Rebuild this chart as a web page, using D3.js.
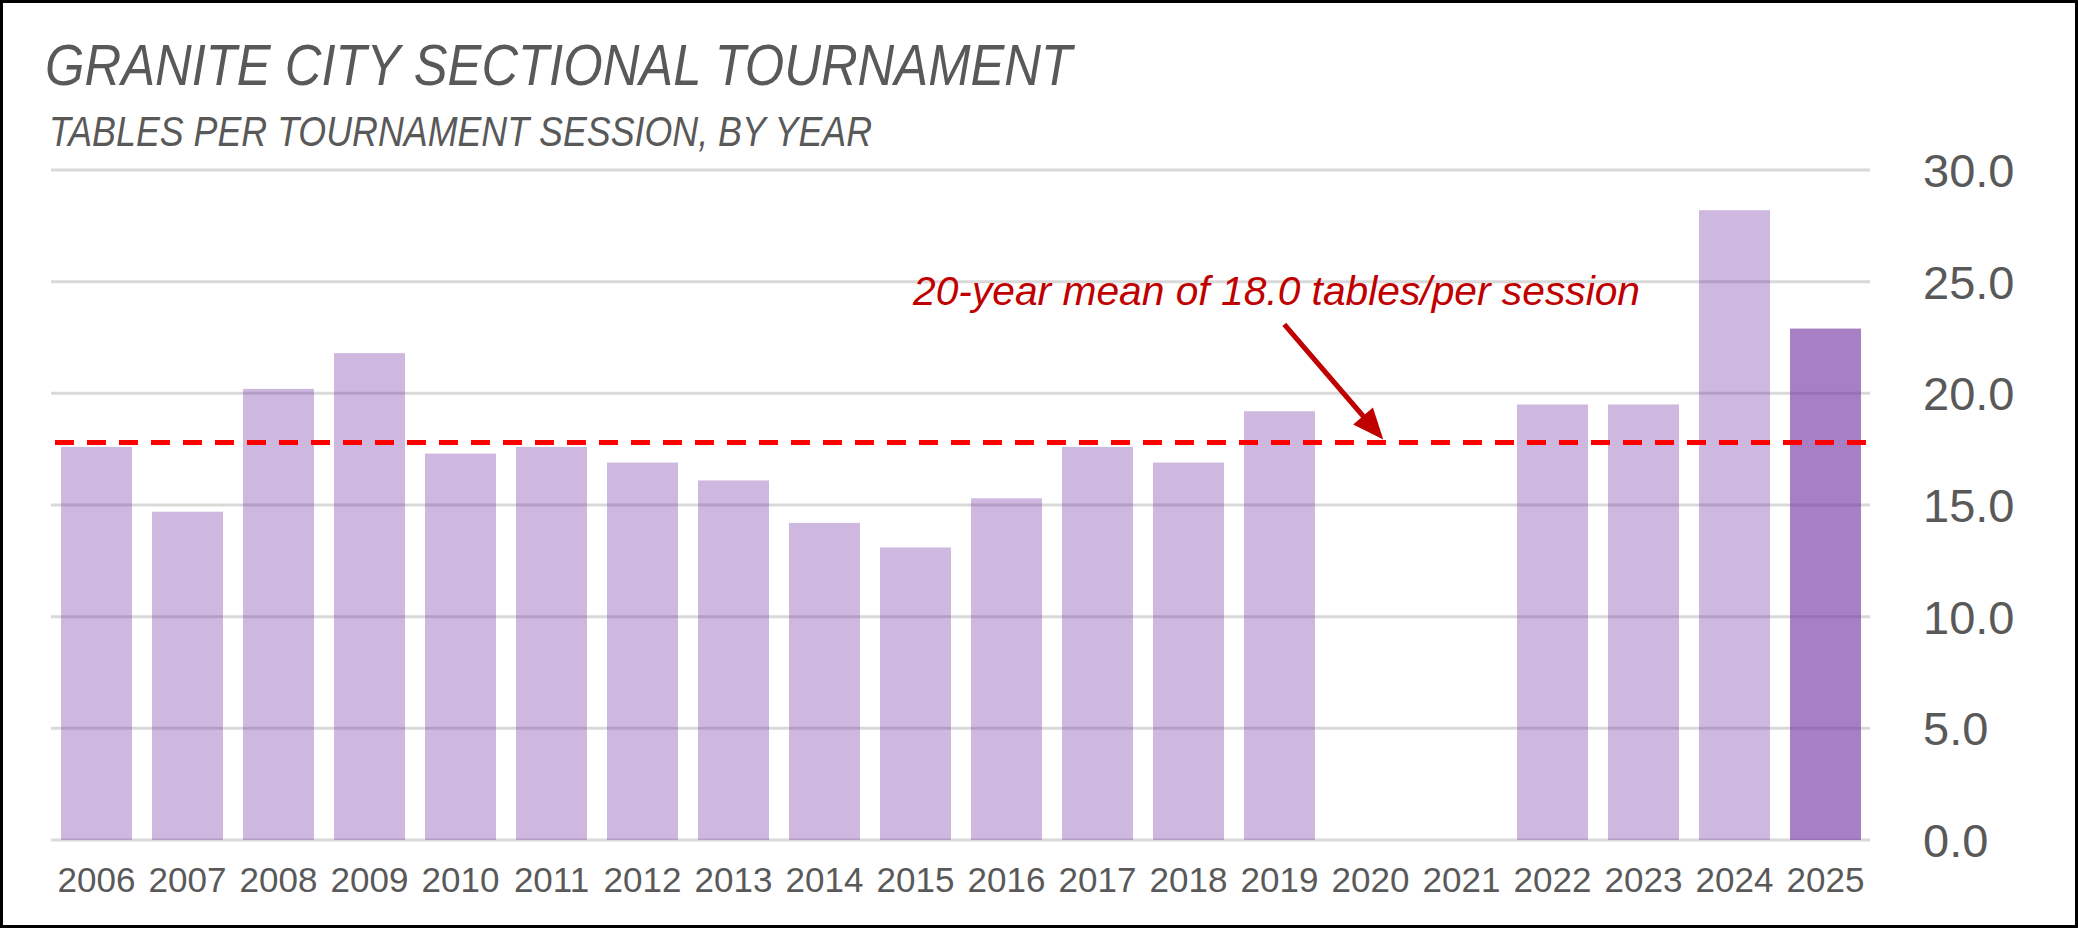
<!DOCTYPE html>
<html lang="en">
<head>
  <meta charset="UTF-8">
  <title>Granite City Sectional Tournament</title>
  <style>
    html, body { margin: 0; padding: 0; background: #fff; }
    svg { display: block; }
    text { font-family: "Liberation Sans", Arial, sans-serif; }
  </style>
</head>
<body>
  <svg id="svg" width="2078" height="928"></svg>
  <script src="https://d3js.org/d3.v7.min.js"></script>
  <script>
    // tables per session, 2020 and 2021 had no tournament
    const years = ['2006', '2007', '2008', '2009', '2010', '2011', '2012', '2013', '2014', '2015',
                   '2016', '2017', '2018', '2019', '2020', '2021', '2022', '2023', '2024', '2025']
    const tables = [17.6, 14.7, 20.2, 21.8, 17.3, 17.6, 16.9, 16.1, 14.2, 13.1,
                    15.3, 17.6, 16.9, 19.2, null, null, 19.5, 19.5, 28.2, 22.9]
    const highlightYear = '2025'
    const meanValue = 17.8
    const yTicks = [0, 5, 10, 15, 20, 25, 30]

    const titleText = 'GRANITE CITY SECTIONAL TOURNAMENT'
    const subtitleText = 'TABLES PER TOURNAMENT SESSION, BY YEAR'
    const noteText = '20-year mean of 18.0 tables/per session'

    const data = years.map((year, i) => ({ year, value: tables[i] }))

    const W = 2078
    const H = 928
    const svg = d3.select('#svg')

    // x scale
    const xscale = d3.scaleBand()
      .domain(years)
      .range([51, 1871])
      .paddingInner(0.22)
      .paddingOuter(0.11)

    // y scale
    const yscale = d3.scaleLinear()
      .domain([0, 30])
      .range([840, 170])

    // gridlines (drawn under the see-through bars)
    svg.append('g')
      .selectAll('line')
      .data(yTicks)
      .enter()
      .append('line')
      .attr('x1', xscale.range()[0])
      .attr('x2', xscale.range()[1] - 1)
      .attr('y1', d => yscale(d))
      .attr('y2', d => yscale(d))
      .attr('stroke', '#d9d9d9')
      .attr('stroke-width', 3)

    // bars
    svg.append('g')
      .selectAll('rect')
      .data(data.filter(d => d.value !== null))
      .enter()
      .append('rect')
      .attr('x', d => xscale(d.year))
      .attr('y', d => yscale(d.value))
      .attr('width', xscale.bandwidth())
      .attr('height', d => yscale(0) - yscale(d.value))
      .attr('fill', '#7030a0')
      .attr('fill-opacity', d => d.year === highlightYear ? 0.62 : 0.34)

    // x axis labels
    const bottomAxis = d3.axisBottom(xscale).tickSize(0).tickPadding(0)
    const xAxis = svg.append('g')
      .attr('transform', `translate(0, ${yscale(0)})`)
      .call(bottomAxis)
    xAxis.select('.domain').remove()
    xAxis.selectAll('text')
      .attr('y', 52)
      .attr('dy', 0)
      .attr('fill', '#595959')
      .style('font-size', '35px')
      .style('font-family', '"Liberation Sans", Arial, sans-serif')

    // y axis labels on the right, left aligned
    const rightAxis = d3.axisRight(yscale)
      .tickValues(yTicks)
      .tickFormat(d3.format('.1f'))
      .tickSize(0)
      .tickPadding(0)
    const yAxis = svg.append('g')
      .attr('transform', 'translate(1923, 0)')
      .call(rightAxis)
    yAxis.select('.domain').remove()
    yAxis.selectAll('text')
      .attr('x', 0)
      .attr('dy', '0.35em')
      .attr('fill', '#595959')
      .style('font-size', '47px')
      .style('font-family', '"Liberation Sans", Arial, sans-serif')

    // mean line
    svg.append('line')
      .attr('x1', xscale.range()[0])
      .attr('x2', xscale.range()[1] - 1)
      .attr('y1', yscale(meanValue))
      .attr('y2', yscale(meanValue))
      .attr('stroke', '#ff0000')
      .attr('stroke-width', 5)
      .attr('stroke-dasharray', '19 13')
      .attr('stroke-dashoffset', 28)

    // annotation arrow pointing at the mean line
    const tipX = xscale('2020') + xscale.bandwidth() * 0.68
    const tipY = yscale(meanValue) - 3
    const startX = tipX - 99
    const startY = tipY - 115
    const len = Math.hypot(tipX - startX, tipY - startY)
    const ux = (tipX - startX) / len
    const uy = (tipY - startY) / len
    const headLen = 31
    const headHalf = 13
    const bx = tipX - ux * headLen
    const by = tipY - uy * headLen

    svg.append('line')
      .attr('x1', startX)
      .attr('y1', startY)
      .attr('x2', bx + ux * 4)
      .attr('y2', by + uy * 4)
      .attr('stroke', '#c00000')
      .attr('stroke-width', 5)

    svg.append('polygon')
      .attr('points', [
        [tipX, tipY],
        [bx - uy * headHalf, by + ux * headHalf],
        [bx + uy * headHalf, by - ux * headHalf]
      ].map(p => p.join(',')).join(' '))
      .attr('fill', '#c00000')

    svg.append('text')
      .attr('x', 913)
      .attr('y', 305)
      .attr('fill', '#c00000')
      .style('font-size', '40px')
      .style('font-style', 'italic')
      .attr('textLength', 727)
      .attr('lengthAdjust', 'spacingAndGlyphs')
      .text(noteText)

    // titles
    svg.append('text')
      .attr('x', 45)
      .attr('y', 85)
      .attr('fill', '#595959')
      .style('font-size', '58px')
      .style('font-style', 'italic')
      .attr('textLength', 1027)
      .attr('lengthAdjust', 'spacingAndGlyphs')
      .text(titleText)

    svg.append('text')
      .attr('x', 49)
      .attr('y', 146)
      .attr('fill', '#595959')
      .style('font-size', '42px')
      .style('font-style', 'italic')
      .attr('textLength', 823)
      .attr('lengthAdjust', 'spacingAndGlyphs')
      .text(subtitleText)

    // frame
    svg.append('rect')
      .attr('x', 1.5)
      .attr('y', 1.5)
      .attr('width', W - 3)
      .attr('height', H - 3)
      .attr('fill', 'none')
      .attr('stroke', '#000')
      .attr('stroke-width', 3)
  </script>
</body>
</html>
